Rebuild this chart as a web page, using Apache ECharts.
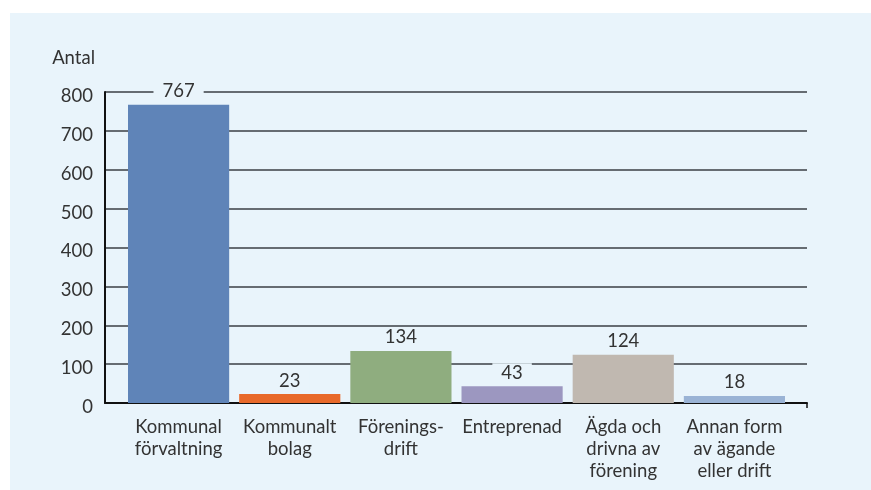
<!DOCTYPE html>
<html><head><meta charset="utf-8">
<script src="https://cdn.jsdelivr.net/npm/echarts@6/dist/echarts.min.js"></script>
<style>html,body{margin:0;padding:0;background:#fff}#c{width:871px;height:490px}</style>
</head><body><div id="c"></div>
<script>
const categories = ['Kommunal\nförvaltning','Kommunalt\nbolag','Förenings-\ndrift','Entreprenad','Ägda och\ndrivna av\nförening','Annan form\nav ägande\neller drift'];
const values = [767, 23, 134, 43, 124, 18];
const colors = ['#5f84b8','#e8692a','#8fad7f','#9c97c0','#c0b8b0','#9ab3d5'];
const yTicks = [0,100,200,300,400,500,600,700,800];
const panel = '#e9f4fb';
const font = 'Lato';
const fs = 18.5;
const chart = echarts.init(document.getElementById('c'), null, {renderer:'canvas'});
chart.setOption({
  backgroundColor:'#fff',
  animation:false,
  graphic:[{type:'rect', z:-10, silent:true, shape:{x:10,y:13,width:861,height:477}, style:{fill:panel}}],
  grid:[
    {left:105,right:64,top:92,bottom:87},
    {left:123,right:81,top:92,bottom:87}
  ],
  xAxis:[
    {type:'value', gridIndex:0, min:0, max:1, interval:1,
      axisLine:{show:true, lineStyle:{color:'#111',width:2}},
      axisTick:{show:true, length:5, customValues:[1], lineStyle:{color:'#111',width:1.5}},
      axisLabel:{show:false}, splitLine:{show:false}},
    {type:'category', gridIndex:1, data:categories,
      axisLine:{show:false}, axisTick:{show:false},
      axisLabel:{color:'#333', fontFamily:font, fontSize:fs, lineHeight:22, margin:13, interval:0}}
  ],
  yAxis:[
    {type:'value', gridIndex:0, min:0, max:800, interval:100,
      name:'Antal', nameLocation:'end', nameGap:24,
      nameTextStyle:{color:'#333', fontFamily:font, fontSize:fs, align:'right', padding:[0,10,0,0]},
      axisLine:{show:true, lineStyle:{color:'#111',width:2}},
      axisTick:{show:false},
      axisLabel:{color:'#333', fontFamily:font, fontSize:fs, margin:12, verticalAlign:'top', lineHeight:8,
        formatter:function(v){return yTicks.indexOf(v)>=0?String(v):'';}},
      splitLine:{lineStyle:{color:'#3a3f45',width:1.5}}},
    {type:'value', gridIndex:1, min:0, max:800, interval:100, show:false}
  ],
  series:[{type:'bar', xAxisIndex:1, yAxisIndex:1, barWidth:'91%',
    data: values.map((v,i)=>({value:v, itemStyle:{color:colors[i]}})),
    label:{show:true, position:'top', distance:4, color:'#333', fontFamily:font, fontSize:fs,
      backgroundColor:panel, padding:[0,9,0,9]}}]
});
</script></body></html>
